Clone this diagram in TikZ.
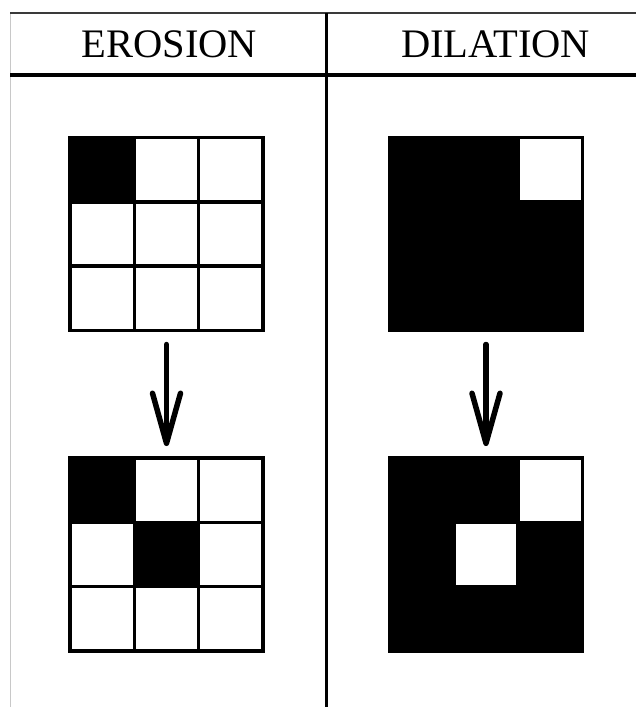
\documentclass[tikz,border=0pt]{standalone}
\usepackage{fontspec}
\setmainfont{Liberation Serif}
\usepackage{tikz}
\usetikzlibrary{arrows.meta,positioning,calc}
\definecolor{RuleGray}{HTML}{3A3A3A}
\definecolor{EdgeGray}{HTML}{C8C8C8}

\tikzset{
  cellgrid/.style={
    draw=black,
    line width=3.5pt,
    minimum size=193pt,
    inner sep=0pt,
    outer sep=0pt
  },
  gridline/.style={draw=black, line width=3.5pt},
  flowarrow/.style={
    line width=5.5pt,
    line cap=round,
    shorten <=14pt,
    shorten >=12pt,
    -{Straight Barb[length=50pt,width=28pt,round]}
  },
  heading/.style={anchor=base, inner sep=0pt, font=\fontsize{40.5}{48}\selectfont}
}

\begin{document}
\begin{tikzpicture}[x=1pt,y=-1pt]
  \useasboundingbox (0,0) rectangle (636,707);

  % table frame
  \draw[EdgeGray, line width=1pt] (10,13) -- (10,707);
  \draw[RuleGray, line width=1.5pt] (10,13) -- (636,13);
  \draw[black, line width=3.5pt] (10,75) -- (636,75);
  \draw[black, line width=3pt] (326.5,13) -- (326.5,707);

  \node[heading] (erosionTitle) at (169.5,57.5) {EROSION};
  \node[heading] (dilationTitle) at (495.5,57.5) {DILATION};

  % grids
  \node[cellgrid] (erosionIn) at (166.5,234) {};
  \node[cellgrid] (erosionOut) at (166.5,554.5) {};
  \node[cellgrid, fill=black] (dilationIn) at (486,234) {};
  \node[cellgrid, fill=black] (dilationOut) at (486,554.5) {};

  % black cells (column/row)
  \foreach \c/\r in {0/0}
    \fill[black] ($(erosionIn.north west)+(\c*64.33,\r*64.33)$) rectangle ++(64.33,64.33);
  \foreach \c/\r in {0/0, 1/1}
    \fill[black] ($(erosionOut.north west)+(\c*64.33,\r*64.33)$) rectangle ++(64.33,64.33);

  % white cells
  \foreach \c/\r in {2/0}
    \fill[white] ($(dilationIn.north west)+(\c*64.33+1.75,\r*64.33+1.75)$) rectangle ++(60.83,60.83);
  \foreach \c/\r in {2/0, 1/1}
    \fill[white] ($(dilationOut.north west)+(\c*64.33+1.75,\r*64.33+1.75)$) rectangle ++(60.83,60.83);

  % inner lines
  \foreach \g in {erosionIn, erosionOut, dilationIn, dilationOut}
    \foreach \k in {1,2} {
      \draw[gridline] ($(\g.north west)+(\k*64.33,0)$) -- ($(\g.south west)+(\k*64.33,0)$);
      \draw[gridline] ($(\g.north west)+(0,\k*64.33)$) -- ($(\g.north east)+(0,\k*64.33)$);
    }

  % arrows
  \draw[flowarrow] (erosionIn) -- (erosionOut);
  \draw[flowarrow] (dilationIn) -- (dilationOut);
\end{tikzpicture}
\end{document}
